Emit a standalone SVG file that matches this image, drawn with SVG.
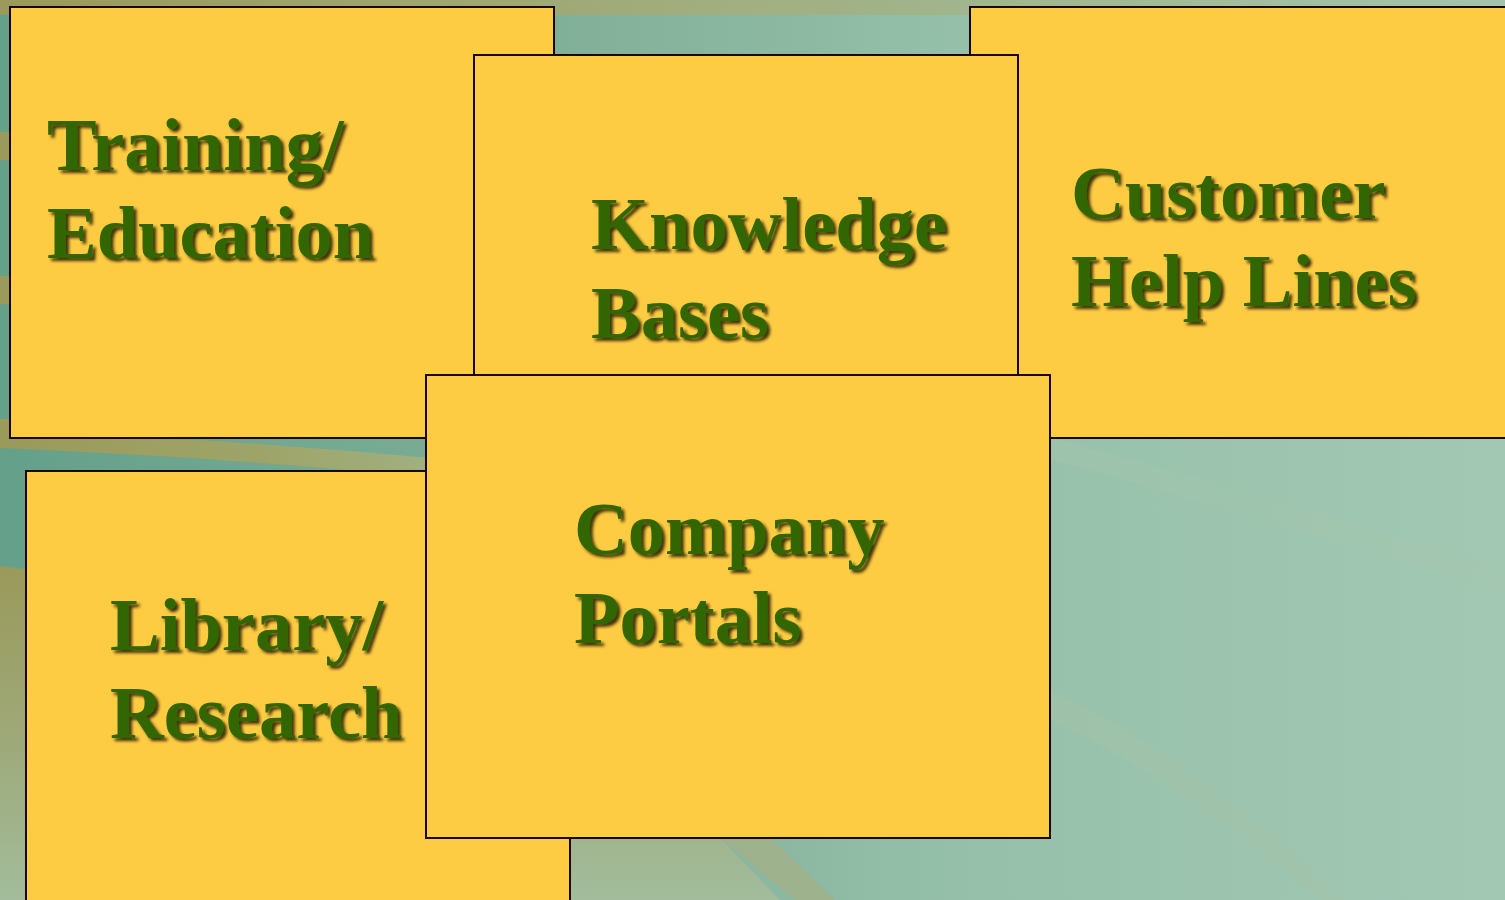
<svg xmlns="http://www.w3.org/2000/svg" width="1505" height="900" viewBox="0 0 1505 900">
  <style>
    .card { fill: #fecc42; stroke: #1a0800; stroke-width: 2; }
    .label { font-family: "Liberation Serif", "Times New Roman", serif; font-weight: bold; font-size: 74.5px; fill: #336600; filter: url(#shadow); }
  </style>
  <defs>
    <linearGradient id="bgBase" x1="0" y1="0" x2="1" y2="0">
      <stop offset="0" stop-color="#64a08a"/>
      <stop offset="0.35" stop-color="#7fae96"/>
      <stop offset="0.65" stop-color="#96c0aa"/>
      <stop offset="1" stop-color="#a2c8b4"/>
    </linearGradient>
    <linearGradient id="topBand" x1="0" y1="0" x2="1" y2="0">
      <stop offset="0" stop-color="#9a9a5a"/>
      <stop offset="0.5" stop-color="#a0b080"/>
      <stop offset="1" stop-color="#a2c4ac"/>
    </linearGradient>
    <linearGradient id="olive" x1="0" y1="0" x2="1" y2="0">
      <stop offset="0" stop-color="#9a9a5a"/>
      <stop offset="0.6" stop-color="#9ea468"/>
      <stop offset="1" stop-color="#a0b080"/>
    </linearGradient>
    <linearGradient id="lowerLeft" x1="0" y1="0" x2="0" y2="1">
      <stop offset="0" stop-color="#9a9a5a"/>
      <stop offset="0.5" stop-color="#9ea878"/>
      <stop offset="1" stop-color="#a2bc9c"/>
    </linearGradient>
    <filter id="shadow" x="-5%" y="-10%" width="115%" height="130%">
      <feDropShadow dx="3" dy="3" stdDeviation="1.4" flood-color="#1a1400" flood-opacity="0.85"/>
    </filter>
  </defs>

  <!-- background -->
  <g id="background">
    <rect x="0" y="0" width="1505" height="900" fill="url(#bgBase)"/>
    <rect x="0" y="0" width="1505" height="15" fill="url(#topBand)"/>
    <!-- olive stripes along the left margin -->
    <rect x="0" y="132" width="60" height="28" fill="#9a9a5a"/>
    <rect x="0" y="276" width="60" height="28" fill="#9a9a5a"/>
    <rect x="0" y="419" width="60" height="20" fill="#9a9a5a"/>
    <!-- curved band under the top row -->
    <path d="M0,436 L200,440 Q320,448 430,458 L430,478 Q240,458 0,448 Z" fill="url(#olive)"/>
    <!-- lower-left sweep -->
    <path d="M0,566 Q300,600 600,760 L720,838 L780,900 L0,900 Z" fill="url(#lowerLeft)"/>
    <!-- faint diagonal band bottom centre -->
    <path d="M720,838 L770,838 L835,900 L795,900 Z" fill="#9eb28e"/>
    <!-- faint light bands on the right -->
    <path d="M1050,438 Q1250,490 1505,570 L1505,595 Q1250,515 1050,459 Z" fill="#a4c6ac" opacity="0.45"/>
    <path d="M1050,690 Q1200,760 1345,900 L1320,900 Q1180,780 1050,720 Z" fill="#a4c4a6" opacity="0.45"/>
  </g>

  <g id="node-training">
    <rect class="card" x="10" y="7" width="544" height="431"/>
    <text class="label"><tspan x="47" y="170">Training/</tspan><tspan x="47" y="258">Education</tspan></text>
  </g>

  <g id="node-customer">
    <rect class="card" x="970" y="7" width="545" height="431"/>
    <text class="label"><tspan x="1071" y="218">Customer</tspan><tspan x="1071" y="306">Help Lines</tspan></text>
  </g>

  <g id="node-library">
    <rect class="card" x="26" y="471" width="544" height="440"/>
    <text class="label"><tspan x="110" y="650">Library/</tspan><tspan x="110" y="738">Research</tspan></text>
  </g>

  <g id="node-knowledge">
    <rect class="card" x="474" y="55" width="544" height="330"/>
    <text class="label"><tspan x="591" y="249">Knowledge</tspan><tspan x="591" y="338">Bases</tspan></text>
  </g>

  <g id="node-company">
    <rect class="card" x="426" y="375" width="624" height="463"/>
    <text class="label"><tspan x="574" y="554">Company</tspan><tspan x="574" y="643">Portals</tspan></text>
  </g>
</svg>
